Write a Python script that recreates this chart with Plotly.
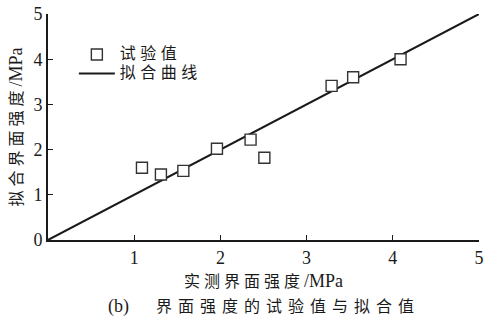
import plotly.graph_objects as go

# Measured vs. fitted interfacial strength (MPa)
measured = [1.09, 1.31, 1.57, 1.96, 2.35, 2.51, 3.29, 3.54, 4.09]
fitted = [1.60, 1.45, 1.53, 2.02, 2.22, 1.82, 3.41, 3.60, 4.00]

# Fitted curve y = x
fit_x = [0, 5]
fit_y = [0, 5]

x_ticks = [1, 2, 3, 4, 5]
y_ticks = [0, 1, 2, 3, 4, 5]

FONT = "Liberation Serif, Times New Roman, Noto Sans CJK SC, serif"


def cjk(text, size=16, spacing=4):
    """Wrap Chinese text in a span with its own size and letter spacing."""
    return f'<span style="font-size:{size}px;letter-spacing:{spacing}px">{text}</span>'


fig = go.Figure()
fig.add_trace(go.Scatter(
    x=fit_x, y=fit_y, mode="lines", name=cjk("拟合曲线", spacing=4.5),
    line=dict(color="#1a1a1a", width=2), legendrank=2,
))
fig.add_trace(go.Scatter(
    x=measured, y=fitted, mode="markers", name=cjk("试验值", spacing=4.5),
    marker=dict(symbol="square", size=11, color="white",
                line=dict(color="#333333", width=1.4)),
    legendrank=1,
))

axis_common = dict(
    showgrid=False, zeroline=False, showline=True, linecolor="#1a1a1a",
    linewidth=1.8, ticks="inside", ticklen=5, tickwidth=1.3,
    tickcolor="#1a1a1a", ticklabeloverflow="allow",
    tickfont=dict(family=FONT, size=18, color="#1a1a1a"),
)

fig.update_layout(
    width=488, height=322,
    margin=dict(l=48, r=4, t=13, b=82),
    paper_bgcolor="white", plot_bgcolor="white",
    font=dict(family=FONT, color="#1a1a1a"),
    xaxis=dict(range=[0, 5], tickvals=x_ticks, **axis_common,
               title=dict(text=cjk("实测界面强度") + "/MPa", standoff=8,
                          font=dict(family=FONT, size=18))),
    yaxis=dict(range=[0, 5], tickvals=y_ticks, **axis_common,
               title=dict(text=cjk("拟合界面强度") + "/MPa", standoff=6,
                          font=dict(family=FONT, size=18))),
    legend=dict(x=0.06, y=0.885, xanchor="left", yanchor="top",
                bgcolor="rgba(0,0,0,0)", itemwidth=36,
                font=dict(family=FONT, size=12), tracegroupgap=0),
    annotations=[dict(
        text="(b)\u2003\u2002" + cjk("界面强度的试验值与拟合值", size=16, spacing=6),
        xref="paper", yref="paper",
        x=0.5, y=-0.237, xanchor="center", yanchor="top", showarrow=False,
        font=dict(family=FONT, size=18, color="#1a1a1a"),
    )],
)

fig.write_html("out.html")
